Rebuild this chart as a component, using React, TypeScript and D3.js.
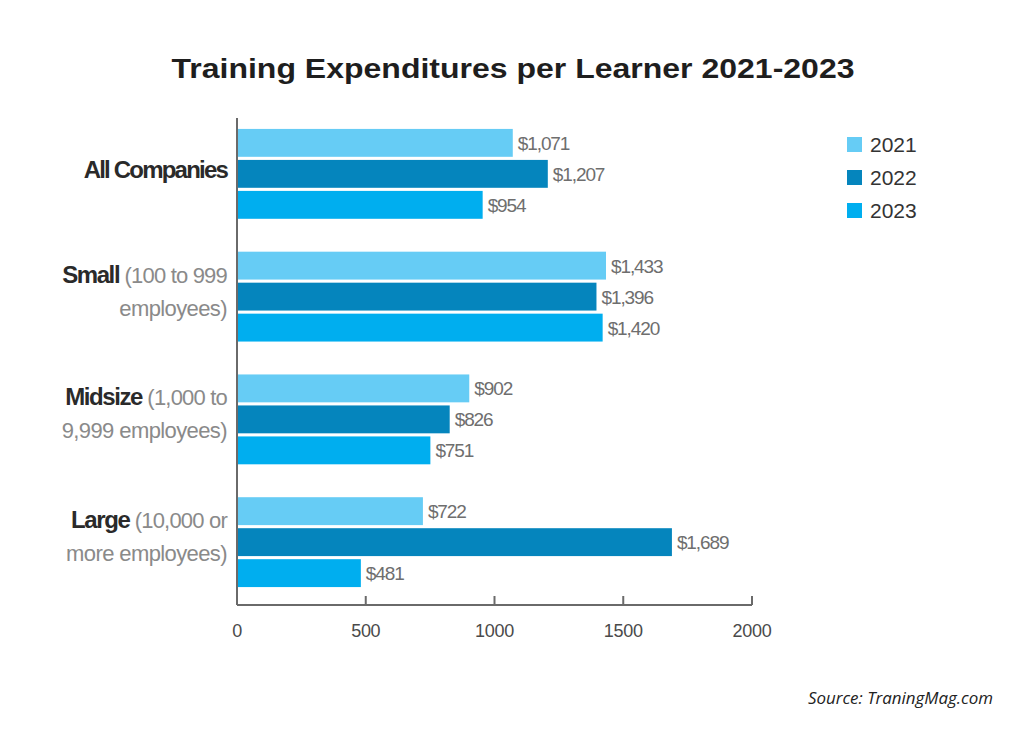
import React from "react";
import * as d3 from "d3";

const categories = ["All Companies", "Small", "Midsize", "Large"];
const detailLine1 = ["", " (100 to 999", " (1,000 to", " (10,000 or"];
const detailLine2 = ["", "employees)", "9,999 employees)", "more employees)"];
const years = ["2021", "2022", "2023"];
const values2021 = [1071, 1433, 902, 722];
const values2022 = [1207, 1396, 826, 1689];
const values2023 = [954, 1420, 751, 481];
const xTicks = [0, 500, 1000, 1500, 2000];
const colors = ["#66CCF5", "#0585BD", "#00AEEF"];

const seriesValues = [values2021, values2022, values2023];

const NARROW = "'Liberation Sans Narrow', 'Arial Narrow', 'Liberation Sans', sans-serif";
const SANS = "'Liberation Sans', Arial, sans-serif";

export default function App() {
  const width = 1024;
  const height = 731;
  const x0 = 237;
  const x1 = 752;
  const axisY = 605;
  const x = d3.scaleLinear().domain([0, 2000]).range([x0, x1]);
  const y = d3
    .scaleBand<string>()
    .domain(categories)
    .range([118, 598])
    .paddingInner(0.268)
    .paddingOuter(0.089);
  const yInner = d3
    .scaleBand<string>()
    .domain(years)
    .range([0, y.bandwidth()])
    .paddingInner(0.1);
  const fmt = d3.format(",");

  return (
    <svg
      width={width}
      height={height}
      style={{ position: "absolute", left: 0, top: 0, background: "#fff" }}
    >
      <rect x={0} y={0} width={width} height={height} fill="#fff" />
      <text
        x={513}
        y={78}
        textAnchor="middle"
        fontFamily={SANS}
        fontWeight="bold"
        fontSize={28}
        fill="#1e1e1e"
        textLength={683}
        lengthAdjust="spacingAndGlyphs"
      >
        Training Expenditures per Learner 2021-2023
      </text>

      {categories.map((c, ci) => (
        <g key={c}>
          {years.map((yr, si) => {
            const v = seriesValues[si][ci];
            const by = (y(c) as number) + (yInner(yr) as number);
            const bh = yInner.bandwidth();
            return (
              <g key={yr}>
                <rect
                  x={x(0)}
                  y={by}
                  width={x(v) - x(0)}
                  height={bh}
                  fill={colors[si]}
                />
                <text
                  x={x(v) + 5}
                  y={by + bh / 2 + 7}
                  fontFamily={NARROW}
                  fontSize={19}
                  fill="#6e6e6e"
                  letterSpacing={-1.1}
                >
                  {"$" + fmt(v)}
                </text>
              </g>
            );
          })}
        </g>
      ))}

      {categories.map((c, ci) => {
        const cy = (y(c) as number) + y.bandwidth() / 2;
        if (!detailLine2[ci]) {
          return (
            <text
              key={c}
              x={227}
              y={cy + 4}
              textAnchor="end"
              fontFamily={NARROW}
              fontWeight="bold"
              fontSize={24}
              fill="#2a2a2a"
              letterSpacing={-1.8}
            >
              {c}
            </text>
          );
        }
        return (
          <g key={c}>
            <text
              x={227}
              y={cy - 14}
              textAnchor="end"
              fontFamily={NARROW}
              fontSize={22}
              letterSpacing={-0.8}
            >
              <tspan fontWeight="bold" fontSize={24} fill="#2a2a2a" letterSpacing={-1.4}>
                {c}
              </tspan>
              <tspan fill="#8a8a8a">{detailLine1[ci]}</tspan>
            </text>
            <text
              x={227}
              y={cy + 19}
              textAnchor="end"
              fontFamily={NARROW}
              fontSize={22}
              fill="#8a8a8a"
              letterSpacing={-0.6}
            >
              {detailLine2[ci]}
            </text>
          </g>
        );
      })}

      <line x1={x0} x2={x0} y1={118} y2={axisY} stroke="#6a6a6a" strokeWidth={2} />
      <line x1={x0} x2={x1} y1={axisY} y2={axisY} stroke="#6a6a6a" strokeWidth={2} />
      {xTicks.map((t) => (
        <g key={t}>
          <line x1={x(t)} x2={x(t)} y1={axisY} y2={axisY - 9} stroke="#6a6a6a" strokeWidth={2} />
          <text
            x={x(t)}
            y={637}
            textAnchor="middle"
            fontFamily={SANS}
            fontSize={18}
            fill="#4a4a4a"
            letterSpacing={-0.3}
          >
            {t}
          </text>
        </g>
      ))}

      {years.map((yr, i) => (
        <g key={yr} transform={`translate(847, ${137 + i * 33})`}>
          <rect x={0} y={0} width={15} height={15} fill={colors[i]} />
          <text
            x={23}
            y={15}
            fontFamily={SANS}
            fontSize={21}
            fill="#333"
            letterSpacing={0}
          >
            {yr}
          </text>
        </g>
      ))}

      <text
        x={993}
        y={704}
        textAnchor="end"
        fontFamily="'Open Sans', sans-serif"
        fontStyle="italic"
        fontSize={16}
        fill="#222"
        textLength={185}
        lengthAdjust="spacingAndGlyphs"
      >
        Source: TraningMag.com
      </text>
    </svg>
  );
}
